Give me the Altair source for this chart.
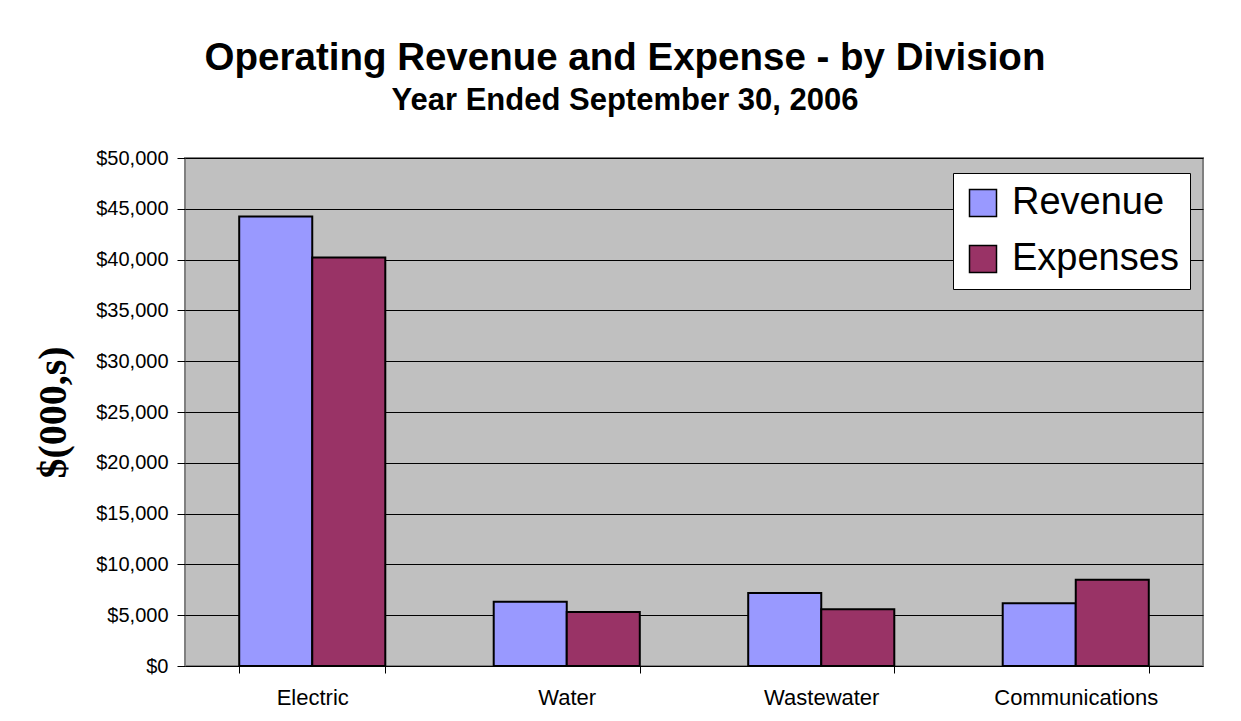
import altair as alt
import pandas as pd

categories = ["Electric", "Water", "Wastewater", "Communications"]
series_names = ["Revenue", "Expenses"]
revenue = [44250, 6330, 7180, 6170]
expenses = [40200, 5310, 5580, 8500]
y_ticks = [0, 5000, 10000, 15000, 20000, 25000, 30000, 35000, 40000, 45000, 50000]
colors = ["#9999FF", "#993366"]

rows = []
for c, r, e in zip(categories, revenue, expenses):
    rows.append({"division": c, "series": "Revenue", "value": r})
    rows.append({"division": c, "series": "Expenses", "value": e})
df = pd.DataFrame(rows)

FONT = "Liberation Sans"

chart = (
    alt.Chart(df)
    .mark_bar(stroke="black", strokeWidth=2)
    .encode(
        x=alt.X(
            "division:N",
            sort=categories,
            scale=alt.Scale(paddingInner=0.426, paddingOuter=0.213),
            axis=alt.Axis(
                title=None,
                labelAngle=0,
                labelFontSize=22,
                labelFont=FONT,
                labelColor="black",
                labelPadding=14,
                tickBand="extent",
                tickSize=7,
                tickColor="black",
                domain=False,
                grid=False,
            ),
        ),
        xOffset=alt.XOffset(
            "series:N",
            sort=series_names,
            scale=alt.Scale(paddingInner=0, paddingOuter=0),
        ),
        y=alt.Y(
            "value:Q",
            scale=alt.Scale(domain=[0, 50000], nice=False),
            axis=alt.Axis(
                title="$(000,s)",
                titleFont="Liberation Serif",
                titleFontSize=40,
                titleFontWeight="bold",
                titleColor="black",
                titleX=-112,
                titleY=254,
                titleAngle=270,
                titleAlign="center",
                titleBaseline="bottom",
                values=y_ticks,
                format="$,.0f",
                labelFontSize=20,
                labelFont=FONT,
                labelColor="black",
                labelPadding=9,
                tickSize=8,
                tickColor="black",
                domain=False,
                grid=True,
                gridColor="black",
                gridWidth=1,
            ),
        ),
        color=alt.Color(
            "series:N",
            sort=series_names,
            scale=alt.Scale(domain=series_names, range=colors),
            legend=alt.Legend(
                title=None,
                orient="none",
                legendX=768,
                legendY=15,
                fillColor="white",
                strokeColor="black",
                padding=11,
                symbolType="square",
                symbolSize=729,
                symbolStrokeColor="black",
                symbolStrokeWidth=1.5,
                symbolOpacity=1,
                labelFont=FONT,
                labelFontSize=38,
                labelColor="black",
                labelOffset=10,
                labelLimit=400,
                rowPadding=18,
            ),
        ),
    )
    .properties(
        width=1018,
        height=508,
        background="white",
        autosize=alt.AutoSizeParams(type="none"),
        padding={"left": 177, "top": 150, "right": 30, "bottom": 45},
        title=alt.TitleParams(
            text="Operating Revenue and Expense - by Division",
            subtitle="Year Ended September 30, 2006",
            font=FONT,
            subtitleFont=FONT,
            fontSize=38.5,
            subtitleFontSize=31,
            fontWeight="bold",
            subtitleFontWeight="bold",
            color="black",
            subtitleColor="black",
            anchor="middle",
            frame="group",
            dx=-69,
            offset=31,
            subtitlePadding=8,
        ),
    )
    .configure_view(fill="#C0C0C0", stroke="#808080", strokeWidth=2)
)

chart.save("out.html", embed_options={"renderer": "svg", "actions": False})
